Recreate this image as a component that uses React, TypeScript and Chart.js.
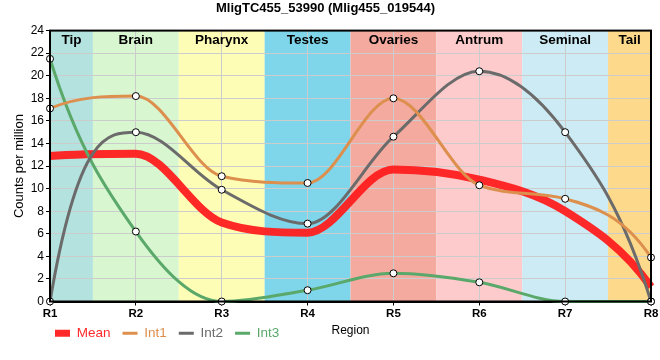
import React, { useEffect, useRef } from "react";
import { Chart, registerables } from "chart.js";

Chart.register(...registerables);

const regions = ["R1", "R2", "R3", "R4", "R5", "R6", "R7", "R8"];
const int1 = [17.1, 18.2, 11.1, 10.5, 18.0, 10.3, 9.1, 3.9];
const int2 = [0, 15.0, 9.9, 6.9, 14.6, 20.4, 15.0, 0];
const int3 = [21.5, 6.2, 0, 1.0, 2.5, 1.7, 0, 0];
const mean = [12.9, 13.1, 7.0, 6.1, 11.7, 10.8, 8.0, 1.3];

const bandNames = ["Tip", "Brain", "Pharynx", "Testes", "Ovaries", "Antrum", "Seminal", "Tail"];
const bandStarts = [0, 0.5, 1.5, 2.5, 3.5, 4.5, 5.5, 6.5];
const bandEnds = [0.5, 1.5, 2.5, 3.5, 4.5, 5.5, 6.5, 7];
const bandColors = ["#b4e2df", "#d8f6d0", "#fefdb5", "#7fd5ea", "#f5aa9f", "#fdcbcc", "#cdebf4", "#fdd98b"];

const FONT = "'Liberation Sans', Arial, sans-serif";

// end tangents: zero curvature at the inner knot of the end segment (monotone-limited)
function adjustEnds(points: any[]) {
  const n = points.length;
  if (n < 3) return;
  const fix = (end: any, nb: any, isStart: boolean) => {
    const dx = nb.x - end.x;
    const dy = nb.y - end.y;
    const h = dx / 3;
    let m = 0;
    if (Math.abs(dy) > 1e-6 && dx) {
      const delta = dy / dx;
      const nbSlope = isStart
        ? (nb.cp1y - nb.y) / (nb.cp1x - nb.x || 1)
        : (nb.cp2y - nb.y) / (nb.cp2x - nb.x || 1);
      m = 3 * delta - 2 * nbSlope;
      if (Math.sign(m) !== Math.sign(delta)) m = 0;
      if (Math.abs(m) > 3 * Math.abs(delta)) m = 3 * delta;
    }
    if (isStart) {
      end.cp2x = end.x + h;
      end.cp2y = end.y + h * m;
    } else {
      end.cp1x = end.x + h;
      end.cp1y = end.y + h * m;
    }
  };
  fix(points[0], points[1], true);
  fix(points[n - 1], points[n - 2], false);
}

const bandsPlugin = {
  id: "bands",
  afterLayout(chart: any) {
    const x = chart.scales.x;
    x.bottom = x.bottom + 10;
    if (chart.legend) {
      chart.legend.left -= 7;
      chart.legend.right -= 7;
    }
  },
  beforeDraw(chart: any) {
    const { ctx, chartArea, scales } = chart;
    const x = scales.x;
    ctx.save();
    for (let i = 0; i < bandNames.length; i++) {
      const a = x.getPixelForValue(bandStarts[i]);
      const b = x.getPixelForValue(bandEnds[i]);
      ctx.fillStyle = bandColors[i];
      ctx.fillRect(a, chartArea.top, b - a, chartArea.bottom - chartArea.top);
    }
    ctx.restore();
  },
  beforeDatasetsDraw(chart: any) {
    const { ctx, chartArea, scales } = chart;
    const x = scales.x;
    ctx.save();
    ctx.font = "bold 13.5px " + FONT;
    ctx.fillStyle = "#000";
    ctx.textAlign = "center";
    ctx.textBaseline = "middle";
    for (let i = 0; i < bandNames.length; i++) {
      const a = x.getPixelForValue(bandStarts[i]);
      const b = x.getPixelForValue(bandEnds[i]);
      ctx.fillText(bandNames[i], (a + b) / 2, chartArea.top + 10);
    }
    ctx.restore();
    chart.data.datasets.forEach((_: any, i: number) => {
      const meta = chart.getDatasetMeta(i);
      if (meta.dataset && meta.dataset.updateControlPoints) {
        meta.dataset.updateControlPoints(chartArea, "x");
        adjustEnds(meta.data);
      }
    });
  },
  afterDraw(chart: any) {
    const { ctx, chartArea } = chart;
    ctx.save();
    ctx.strokeStyle = "#000";
    ctx.lineWidth = 2;
    ctx.strokeRect(chartArea.left, chartArea.top, chartArea.right - chartArea.left, chartArea.bottom - chartArea.top);
    ctx.font = "12px " + FONT;
    ctx.fillStyle = "#000";
    ctx.textAlign = "center";
    ctx.textBaseline = "middle";
    ctx.fillText("Region", (chartArea.left + chartArea.right) / 2, 331);
    ctx.restore();
  },
};

export default function App() {
  const ref = useRef<HTMLCanvasElement>(null);
  useEffect(() => {
    document.body.style.margin = "0";
    const pt = {
      pointRadius: 3.5,
      pointBackgroundColor: "#fff",
      pointBorderColor: "#000",
      pointBorderWidth: 1,
      borderWidth: 3,
      cubicInterpolationMode: "monotone" as const,
      clip: false as any,
    };
    const chart = new Chart(ref.current!, {
      type: "line",
      data: {
        labels: regions,
        datasets: [
          {
            label: "Mean",
            data: mean,
            borderColor: "rgba(255,30,30,0.95)",
            backgroundColor: "rgba(255,30,30,0.95)",
            borderWidth: 8,
            pointRadius: 0,
            cubicInterpolationMode: "monotone",
            order: 1,
          },
          { label: "Int1", data: int1, borderColor: "#dd8f4e", backgroundColor: "#dd8f4e", ...pt, order: 0 },
          { label: "Int2", data: int2, borderColor: "#6b6b6b", backgroundColor: "#6b6b6b", ...pt, order: 0 },
          { label: "Int3", data: int3, borderColor: "#5aa86a", backgroundColor: "#5aa86a", ...pt, order: 0 },
        ],
      },
      options: {
        animation: false,
        responsive: false,
        layout: { padding: { left: 0, right: 9, top: 0, bottom: 10 } },
        plugins: {
          title: {
            display: true,
            text: "MligTC455_53990 (Mlig455_019544)",
            color: "#000",
            font: { family: FONT, size: 13, weight: "bold" },
            padding: { top: 1, bottom: 14 },
          },
          legend: {
            position: "bottom",
            align: "start",
            fullSize: false,
            labels: {
              usePointStyle: true,
              pointStyleWidth: 15,
              boxWidth: 15,
              boxHeight: 7,
              padding: 12,
              font: { family: FONT, size: 13.5 },
              sort: (a: any, b: any) => a.datasetIndex - b.datasetIndex,
              generateLabels(chart: any) {
                const items = Chart.defaults.plugins.legend.labels.generateLabels(chart);
                return items.map((it: any) => {
                  const ds = chart.data.datasets[it.datasetIndex];
                  it.fontColor = ds.borderColor;
                  if (ds.label === "Mean") {
                    it.pointStyle = "rect";
                    it.fillStyle = ds.borderColor;
                    it.strokeStyle = ds.borderColor;
                    it.lineWidth = 0;
                  } else {
                    it.pointStyle = "line";
                    it.strokeStyle = ds.borderColor;
                    it.lineWidth = 3;
                  }
                  return it;
                });
              },
            },
          },
          tooltip: { enabled: false },
        },
        scales: {
          x: {
            offset: false,
            afterFit(axis: any) {
              axis.height = 13;
            },
            grid: { color: "#cccccc", tickColor: "#000", tickLength: 4, drawOnChartArea: true },
            border: { color: "#000", width: 2 },
            ticks: { color: "#000", font: { family: FONT, size: 11.5, weight: "bold" }, padding: 1, autoSkip: false, maxRotation: 0 },
          },
          y: {
            min: 0,
            max: 24,
            afterFit(axis: any) {
              axis.width = 50;
            },
            grid: { color: "#cccccc", tickColor: "#000", tickLength: 4 },
            border: { color: "#000", width: 2 },
            ticks: { stepSize: 2, color: "#000", font: { family: FONT, size: 12 }, padding: 2 },
            title: {
              display: true,
              text: "Counts per million",
              color: "#000",
              font: { family: FONT, size: 13 },
              padding: { top: 12, bottom: 2 },
            },
          },
        },
      },
      plugins: [bandsPlugin],
    });
    return () => chart.destroy();
  }, []);
  return <canvas ref={ref} width={660} height={360} style={{ display: "block" }} />;
}
